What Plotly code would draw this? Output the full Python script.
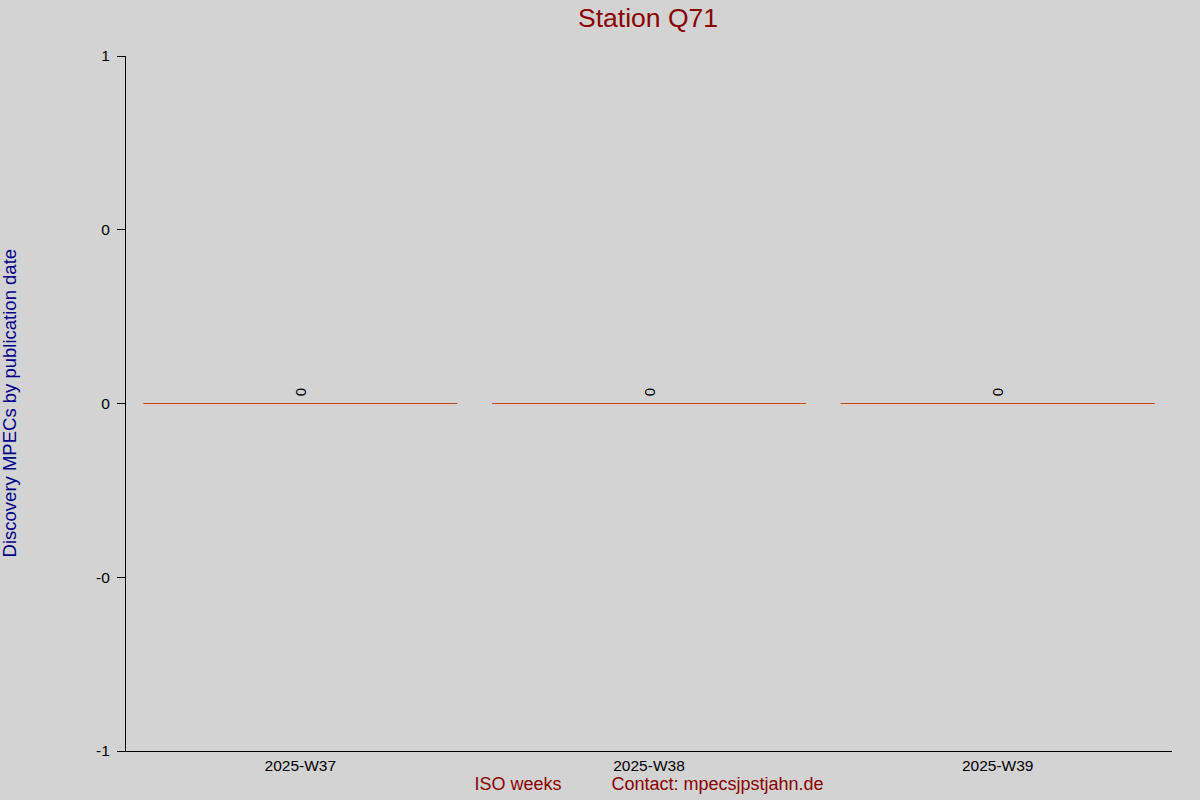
import plotly.graph_objects as go

weeks = ["2025-W37", "2025-W38", "2025-W39"]
mpecs = [0, 0, 0]
y_tickvals = [-1, -0.5, 0, 0.5, 1]
y_ticktext = ["-1", "-0", "0", "0", "1"]

bg = "#d3d3d3"
gap = "\u00a0" * 10

fig = go.Figure(go.Bar(
    x=weeks,
    y=mpecs,
    texttemplate="\u00a0%{y}",
    textposition="outside",
    textangle=-90,
    textfont=dict(color="black", size=15),
    marker=dict(color="#cc4400", line=dict(color="#cc4400", width=1)),
    cliponaxis=False,
    hoverinfo="x+y",
))

fig.update_layout(
    width=1200, height=800,
    paper_bgcolor=bg, plot_bgcolor=bg,
    font=dict(family="Liberation Sans, Arial", size=15, color="black"),
    margin=dict(l=126, r=28, t=56, b=49),
    bargap=0.1,
    showlegend=False,
    title=dict(text="Station Q71", x=0.54, xanchor="center", y=0.978, yanchor="middle",
               font=dict(size=26.5, color="#8b0000")),
    xaxis=dict(
        showgrid=False, zeroline=False, showline=True, linecolor="black", linewidth=1,
        ticks="", tickfont=dict(size=15.5),
        title=dict(text="ISO weeks" + gap + "Contact: mpecsjpstjahn.de",
                   font=dict(size=18, color="#8b0000"), standoff=2),
    ),
    yaxis=dict(
        range=[-1, 1], tickvals=y_tickvals, ticktext=y_ticktext,
        showgrid=False, zeroline=False, showline=True, linecolor="black", linewidth=1,
        ticks="outside", ticklen=8, tickcolor="black", tickfont=dict(size=15.5),
        ticklabelstandoff=4,
    ),
    annotations=[dict(
        text="Discovery MPECs by publication date", textangle=-90,
        xref="paper", yref="paper", x=-0.111, y=0.5, xanchor="center", yanchor="middle",
        showarrow=False, font=dict(size=18.5, color="#00008b"),
    )],
)

fig.write_html("out.html", config={"displayModeBar": False},
               post_script="document.body.style.margin='0';")
